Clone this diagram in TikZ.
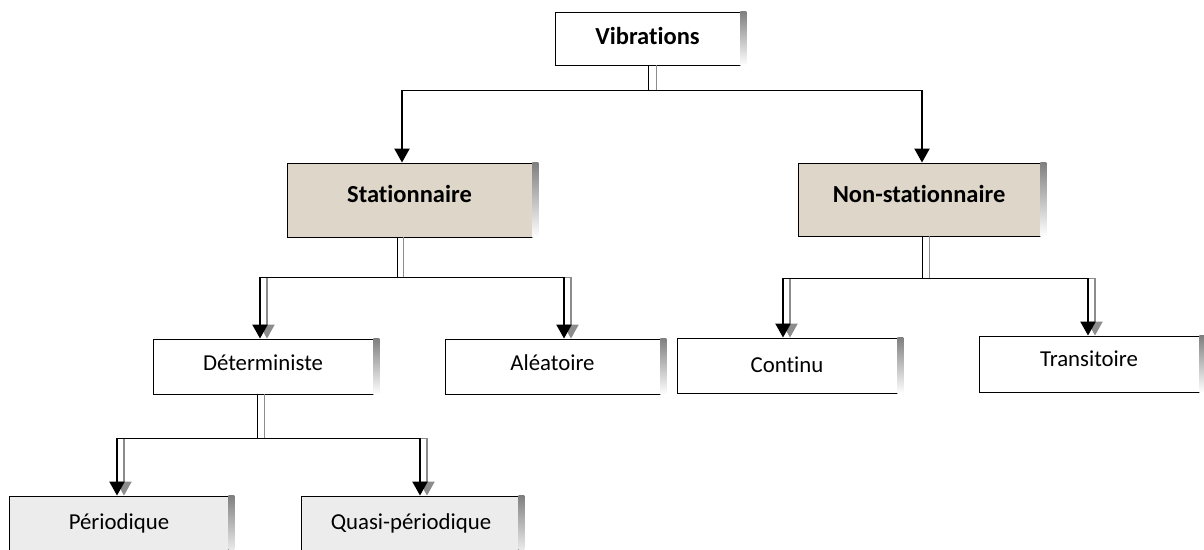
\documentclass[tikz,border=0pt]{standalone}
\usepackage{fontspec}
\setmainfont{Carlito}[Ligatures=NoCommon]
\usetikzlibrary{calc,arrows.meta}

\definecolor{shade}{HTML}{7A7A7A}
\definecolor{sand}{HTML}{DDD6C9}
\definecolor{stone}{HTML}{ECECEC}
\definecolor{ghost}{HTML}{8C8C8C}

\tikzset{
  box/.style={draw=black, line width=0.9pt, rectangle, inner sep=0pt, fill=white},
  boldtxt/.style={font=\fontsize{24.5}{28}\selectfont\bfseries, inner sep=0pt},
  plaintxt/.style={font=\fontsize{22.8}{26}\selectfont, inner sep=0pt},
  hl/.style={line width=1pt},
  arr/.style={line width=2.2pt, -{Triangle[length=14pt,width=15pt]}},
  garr/.style={arr, draw=ghost, fill=ghost},
}

% grey bar on the right side of a box
\newcommand{\sidebar}[1]{\fill[shade] (#1.north east) rectangle ($(#1.south east)+(6,0)$);}

\begin{document}
\begin{tikzpicture}[x=1pt,y=-1pt]
\useasboundingbox (0,0) rectangle (1204,549);
\clip (0,0) rectangle (1204,549);

% boxes
\node[box, minimum width=185pt, minimum height=53pt] (vib) at (647.5,38.5) {};
\node[box, fill=sand, minimum width=245pt, minimum height=74pt] (sta) at (409.5,200) {};
\node[box, fill=sand, minimum width=242pt, minimum height=73pt] (non) at (919,199.5) {};
\node[box, minimum width=220pt, minimum height=55pt] (det) at (263,366.5) {};
\node[box, minimum width=215pt, minimum height=55pt] (ale) at (552.5,366.5) {};
\node[box, minimum width=220pt, minimum height=55pt] (con) at (787,365.5) {};
\node[box, minimum width=220pt, minimum height=56pt] (tra) at (1089,364) {};
\node[box, fill=stone, minimum width=219pt, minimum height=64pt] (per) at (118.5,528) {};
\node[box, fill=stone, minimum width=217pt, minimum height=64pt] (qua) at (409.5,528) {};

\foreach \b in {vib,sta,non,det,ale,con,tra,per,qua} {\sidebar{\b}}

% labels
\node[boldtxt] (vibt) at (647.5,36) {Vibrations};
\node[boldtxt] (stat) at (409.5,194) {Stationnaire};
\node[boldtxt] (nont) at (919,194) {Non-stationnaire};
\node[plaintxt] (dett) at (263,363) {Déterministe};
\node[plaintxt] (alet) at (552.5,363) {Aléatoire};
\node[plaintxt] (cont) at (787,365) {Continu};
\node[plaintxt] (trat) at (1089,359) {Transitoire};
\node[plaintxt] (pert) at (119,523) {Périodique};
\node[plaintxt] (quat) at (411,523) {Quasi-périodique};

% Vibrations -> Stationnaire / Non-stationnaire
\coordinate (vs) at ($(vib.south)+(0.5,0)$);
\coordinate (vj) at ($(vs)+(0,25)$);
\coordinate (sn) at ($(sta.north)+(-7.5,0)$);
\coordinate (nn) at ($(non.north)+(3,0)$);
\draw[hl, ghost] ($(vs)+(8,0)$) -- ($(vj)+(8,0)$);
\draw[hl] (vs) -- (vj);
\draw[hl] (sn |- vj) -- (nn |- vj);
\draw[arr] (sn |- vj) -- (sn);
\draw[arr] (nn |- vj) -- (nn);

% Stationnaire -> Deterministe / Aleatoire
\coordinate (ss) at ($(sta.south)+(-12.5,0)$);
\coordinate (sj) at ($(ss)+(0,40)$);
\coordinate (dn) at ($(det.north)+(-3,0)$);
\coordinate (an) at ($(ale.north)+(11.5,0)$);
\draw[hl, ghost] ($(ss)+(6,0)$) -- ($(sj)+(6,0)$);
\draw[hl, ghost] ($(dn |- sj)+(7,0)$) -- ($(an |- sj)+(8,0)$);
\draw[garr] ($(dn |- sj)+(7,0)$) -- ($(dn)+(7,0)$);
\draw[garr] ($(an |- sj)+(7,0)$) -- ($(an)+(7,0)$);
\draw[hl] (ss) -- (sj);
\draw[hl] (dn |- sj) -- (an |- sj);
\draw[arr] (dn |- sj) -- (dn);
\draw[arr] (an |- sj) -- (an);

% Non-stationnaire -> Continu / Transitoire
\coordinate (ns) at ($(non.south)+(3,0)$);
\coordinate (nj) at ($(ns)+(0,42)$);
\coordinate (cn) at ($(con.north)+(-4,0)$);
\coordinate (tn) at ($(tra.north)+(-1,0)$);
\draw[hl, ghost] ($(ns)+(7,0)$) -- ($(nj)+(7,0)$);
\draw[hl, ghost] ($(cn |- nj)+(7,0)$) -- ($(tn |- nj)+(7,0)$);
\draw[garr] ($(cn |- nj)+(7,0)$) -- ($(cn)+(7,0)$);
\draw[garr] ($(tn |- nj)+(7,0)$) -- ($(tn)+(7,0)$);
\draw[hl] (ns) -- (nj);
\draw[hl] (cn |- nj) -- (tn |- nj);
\draw[arr] (cn |- nj) -- (cn);
\draw[arr] (tn |- nj) -- (tn);

% Deterministe -> Periodique / Quasi-periodique
\coordinate (ds) at ($(det.south)+(-6,0)$);
\coordinate (dj) at ($(ds)+(0,44)$);
\coordinate (pn) at ($(per.north)+(-1.5,0)$);
\coordinate (qn) at ($(qua.north)+(10.5,0)$);
\draw[hl, ghost] ($(ds)+(7,0)$) -- ($(dj)+(7,0)$);
\draw[hl, ghost] ($(pn |- dj)+(7,0)$) -- ($(qn |- dj)+(7,0)$);
\draw[garr] ($(pn |- dj)+(7,0)$) -- ($(pn)+(7,0)$);
\draw[garr] ($(qn |- dj)+(7,0)$) -- ($(qn)+(7,0)$);
\draw[hl] (ds) -- (dj);
\draw[hl] (pn |- dj) -- (qn |- dj);
\draw[arr] (pn |- dj) -- (pn);
\draw[arr] (qn |- dj) -- (qn);
\end{tikzpicture}
\end{document}
